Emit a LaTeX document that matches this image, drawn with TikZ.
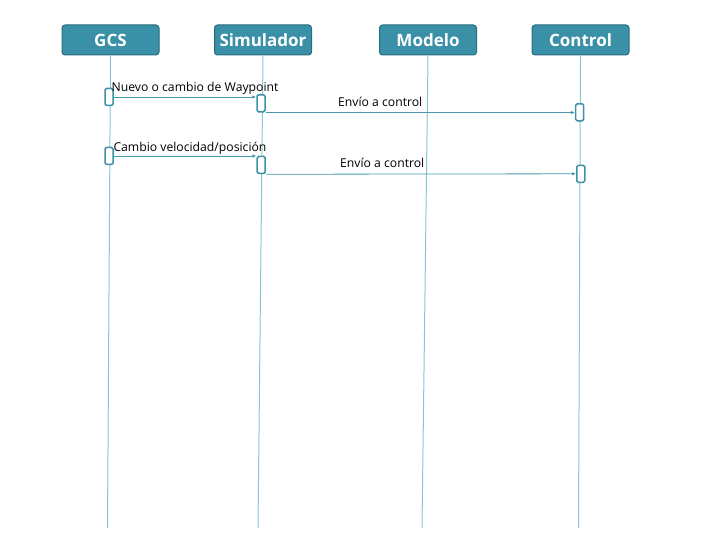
\documentclass[tikz,border=0pt]{standalone}
\usepackage{fontspec}
\setmainfont{Open Sans}
\usetikzlibrary{positioning}
\usetikzlibrary{arrows.meta}
\definecolor{headfill}{RGB}{58, 144, 166}
\definecolor{headline}{RGB}{40, 108, 125}
\definecolor{lifeline}{RGB}{140, 198, 212}
\definecolor{actline}{RGB}{62, 145, 166}
\definecolor{msgline}{RGB}{72, 152, 174}

\tikzset{
    head/.style   = {rectangle, rounded corners=3pt, fill=headfill, draw=headline, line width=1pt,
                     minimum width=97, minimum height=30, inner sep=0pt, text=white,
                     font=\bfseries\fontsize{17}{17}\selectfont},
    life/.style   = {draw=lifeline, line width=1pt},
    act/.style    = {rectangle, rounded corners=1.5pt, fill=white, draw=actline, line width=1.5pt,
                     minimum width=8, minimum height=17, inner sep=0pt},
    msg/.style    = {draw=msgline, line width=0.8pt, -{Latex[length=4pt, width=3.5pt]}},
    msglabel/.style = {anchor=base west, inner sep=0pt, font=\fontsize{12.2}{12.2}\selectfont}
}

\begin{document}
\begin{tikzpicture}[x=1pt, y=-1pt]
            \useasboundingbox (0,0) rectangle (720,540);
            % cabeceras
            \node[head] (gcs)  at (110.5, 40) {GCS};
            \node[head] (sim)  at (263.0, 40) {Simulador};
            \node[head] (mod)  at (428.0, 40) {Modelo};
            \node[head] (ctrl) at (580.5, 40) {Control};
            % lineas de vida
            \coordinate (gcs-end)  at (107.5, 528);
            \coordinate (sim-end)  at (258.0, 528);
            \coordinate (mod-end)  at (422.0, 528);
            \coordinate (ctrl-end) at (578.5, 528);
            \draw[life] (gcs.south)  -- (gcs-end);
            \draw[life] (sim.south)  -- (sim-end);
            \draw[life] (mod.south)  -- (mod-end);
            \draw[life] (ctrl.south) -- (ctrl-end);
            % activaciones
            \node[act] (gcs-a1)  at (109.0, 97.0) {};
            \node[act] (sim-a1)  at (261.0, 103.3) {};
            \node[act] (ctrl-a1) at (579.7, 112.3) {};
            \node[act] (gcs-a2)  at (109.0, 156.0) {};
            \node[act] (sim-a2)  at (261.2, 165.0) {};
            \node[act] (ctrl-a2) at (580.8, 173.8) {};
            % mensajes
            \draw[msg] (gcs-a1.east) -- (gcs-a1.east -| sim-a1.west);
            \draw[msg] (sim-a1.south east) -- (sim-a1.south east -| ctrl-a1.west);
            \draw[msg] (gcs-a2.east) -- (gcs-a2.east -| sim-a2.west);
            \draw[msg] (sim-a2.south east) -- (ctrl-a2.west);
            \node[msglabel] (lbl1) at (111.5, 92.0)  {Nuevo o cambio de Waypoint};
            \node[msglabel] (lbl2) at (338.0, 107.0) {Envío a control};
            \node[msglabel] (lbl3) at (113.3, 151.7) {Cambio velocidad/posición};
            \node[msglabel] (lbl4) at (340.0, 168.0) {Envío a control};
        \end{tikzpicture}
\end{document}
